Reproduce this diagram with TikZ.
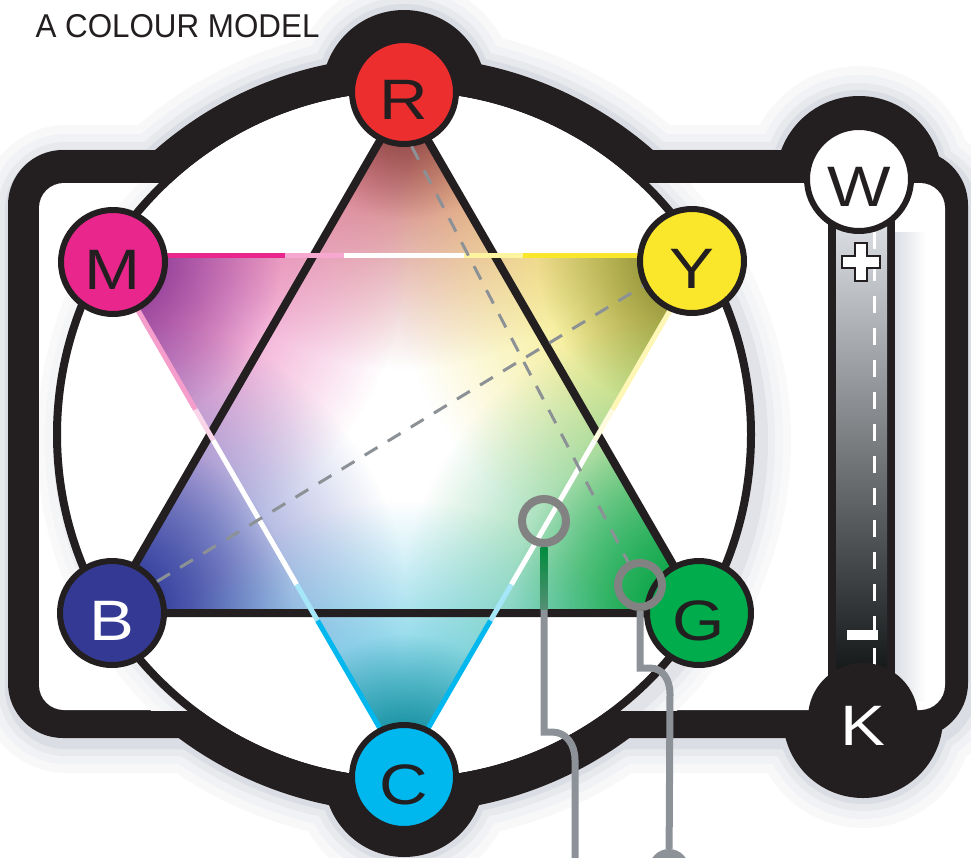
\documentclass[tikz,border=0pt]{standalone}
\usepackage{fontspec}
\setmainfont{Liberation Sans}
\newfontfamily\hubfont[FakeStretch=1.18]{Liberation Sans}
\newfontfamily\titlefont[FakeStretch=0.95]{Liberation Sans}
\usetikzlibrary{calc, fadings}

\tikzfading[name=tipfade, inner color=transparent!0, outer color=transparent!100]

\tikzset{
    hub/.style={circle, draw=ink, line width=6pt, minimum size=104pt, inner sep=0pt,
        text height=55pt, text depth=0pt, text=ink, font=\hubfont\fontsize{57}{57}\selectfont},
    probe/.style={circle, draw=probegray, line width=8pt, minimum size=44pt, inner sep=0pt},
    lead/.style={draw=leadgray, line width=7pt},
    guide/.style={draw=guidegray, line width=3pt, dash pattern=on 15pt off 12pt},
    rim/.style={line width=5pt}
}

\begin{document}
\begin{tikzpicture}[x=1pt, y=-1pt]
\definecolor{ink}{RGB}{35,31,32}
\definecolor{glow}{RGB}{130,140,162}
\definecolor{colR}{RGB}{236,46,47}
\definecolor{colM}{RGB}{232,38,140}
\definecolor{colY}{RGB}{250,230,42}
\definecolor{colB}{RGB}{52,58,148}
\definecolor{colG}{RGB}{0,172,76}
\definecolor{colC}{RGB}{0,183,238}
\definecolor{tipR}{RGB}{195,85,85}
\definecolor{tipRd}{RGB}{125,62,60}
\definecolor{tipM}{RGB}{228,80,165}
\definecolor{tipMd}{RGB}{115,50,145}
\definecolor{tipY}{RGB}{238,222,60}
\definecolor{tipYd}{RGB}{105,112,42}
\definecolor{tipB}{RGB}{70,85,185}
\definecolor{tipBd}{RGB}{40,50,145}
\definecolor{tipG}{RGB}{30,175,85}
\definecolor{tipGd}{RGB}{0,160,62}
\definecolor{tipC}{RGB}{60,190,222}
\definecolor{tipCd}{RGB}{0,125,135}
\definecolor{barlight}{RGB}{218,221,226}
\definecolor{bardark}{RGB}{22,26,27}
\definecolor{probegray}{RGB}{130,130,130}
\definecolor{guidegray}{RGB}{140,145,150}
\definecolor{leadgray}{RGB}{140,146,152}
\definecolor{leadgreen}{RGB}{0,140,62}
\def\tipglow#1#2#3{\fill[#2, path fading=tipfade] (#1) circle [radius=#3];}

\useasboundingbox (0,0) rectangle (971,857);
\clip (0,0) rectangle (971,857);

\coordinate (ctr) at (404,434.5);
\coordinate (cR) at (404,92);
\coordinate (cM) at (113,262);
\coordinate (cY) at (692,261);
\coordinate (cB) at (112,613);
\coordinate (cG) at (699,613);
\coordinate (cC) at (404,777);
\coordinate (cW) at (859,179);
\coordinate (cK) at (863,718);

\foreach \g/\t in {30/6,21/11,13/19,6/30}{
    \pgfmathsetmacro\rc{55+\g}
    \begin{scope}[shift={(3,5)}, glow!\t!white]
        \fill[rounded corners=\rc pt] (8-\g,150-\g) rectangle (968+\g,738+\g);
        \fill (ctr) circle [radius=378+\g];
        \fill (cR) circle [radius=82+\g];
        \fill (cC) circle [radius=80+\g];
        \fill (cW) circle [radius=83+\g];
        \fill (cK) circle [radius=80+\g];
    \end{scope}
}

\fill[ink, rounded corners=55pt] (8,150) rectangle (968,738);
\draw[ink, line width=36pt] (ctr) circle [radius=360];
\foreach \c/\r in {cR/82,cC/80,cW/83,cK/80}
    \fill[ink] (\c) circle [radius=\r];

\fill[white, rounded corners=25pt] (39,183) rectangle (945,710);
\begin{scope}
    \clip (39,183) rectangle (945,710);
    \foreach \g/\t in {30/5,22/9,14/15,7/24}{
        \pgfmathsetmacro\lw{2*\g}
        \draw[glow!\t!white, line width=\lw pt] ([shift={(10,6)}]ctr) circle [radius=347];
    }
\end{scope}
\fill[white] (ctr) circle [radius=343];
\draw[ink, line width=8pt] (ctr) circle [radius=347];

\shade[left color=glow!28!white, right color=white] (895,232) rectangle (926,700);
\fill[ink] (828,179) rectangle (895,718);
\shade[top color=barlight, bottom color=bardark] (836,225) rectangle (887,668);
\draw[white, line width=3pt, dash pattern=on 17pt off 15pt] (874,232) -- (874,668);
\draw[ink, fill=white, line width=2pt] (855,243) -- ++(12,0) -- ++(0,13) -- ++(13,0) -- ++(0,12)
    -- ++(-13,0) -- ++(0,13) -- ++(-12,0) -- ++(0,-13) -- ++(-13,0) -- ++(0,-12) -- ++(13,0) -- cycle;
\fill[white] (847,630) rectangle (878,640);

\coordinate (tR) at (404,99);
\coordinate (tB) at (107,613);
\coordinate (tG) at (701,613);
\coordinate (tM) at (106,255);
\coordinate (tY) at (702,255);
\coordinate (tC) at (404,770);
\coordinate (xRM) at (intersection of tR--tB and tM--tY);
\coordinate (xRY) at (intersection of tR--tG and tM--tY);
\coordinate (xYG) at (intersection of tR--tG and tY--tC);
\coordinate (xGC) at (intersection of tB--tG and tY--tC);
\coordinate (xBC) at (intersection of tB--tG and tM--tC);
\coordinate (xMB) at (intersection of tR--tB and tM--tC);

\begin{scope}
    \clip (tR) -- (xRY) -- (tY) -- (xYG) -- (tG) -- (xGC) -- (tC) -- (xBC) -- (tB) -- (xMB) -- (tM) -- (xRM) -- cycle;
    \fill[white] (0,0) rectangle (971,857);
    \tipglow{tR}{tipR}{270}
    \tipglow{tR}{tipRd}{120}
    \tipglow{tM}{tipM}{300}
    \tipglow{tM}{tipMd}{175}
    \tipglow{tY}{tipY}{310}
    \tipglow{tY}{tipYd}{165}
    \tipglow{tB}{tipB}{300}
    \tipglow{tB}{tipBd}{185}
    \tipglow{tG}{tipG}{300}
    \tipglow{tG}{tipGd}{190}
    \tipglow{tC}{tipC}{270}
    \tipglow{tC}{tipCd}{135}
\end{scope}

\draw[ink, line width=8pt] (tR) -- (tB) -- (tG) -- cycle;
\foreach \a/\b/\c in {0/.30/colM, .30/.40/colM!40!white, .40/.60/white, .60/.70/colY!45!white, .70/1/colY}
    \draw[rim, \c] ($(tM)!\a!(tY)$) -- ($(tM)!\b!(tY)$);
\foreach \a/\b/\c in {0/.30/colM!45!white, .30/.36/colM!20!white, .36/.64/white, .64/.71/colC!35!white, .71/1/colC}
    \draw[rim, \c] ($(tM)!\a!(tC)$) -- ($(tM)!\b!(tC)$);
\foreach \a/\b/\c in {0/.30/colY!35!white, .30/.36/colY!15!white, .36/.64/white, .64/.71/colC!35!white, .71/1/colC}
    \draw[rim, \c] ($(tY)!\a!(tC)$) -- ($(tY)!\b!(tC)$);

\node[hub, fill=colR] (R) at (cR) {R};
\node[hub, fill=colM] (M) at (cM) {M};
\node[hub, fill=colY] (Y) at (cY) {Y};
\node[hub, fill=colB, text=white] (B) at (cB) {B};
\node[hub, fill=colG] (G) at (cG) {G};
\node[hub, fill=colC] (C) at (cC) {C};
\node[hub, fill=white] (W) at (cW) {W};
\node[hub, fill=ink, text=white] (K) at (cK) {K};

\node[probe] (p1) at (544,521) {};
\node[probe] (p2) at (640,585) {};
\draw[guide] (R.-82) -- (p2);
\draw[guide] (B.35) -- (Y.207);

\node[circle, fill=leadgray, minimum size=40pt, inner sep=0pt] (tail) at (669,869) {};
\draw[lead] (p1.south) -- (544,732) -- (552,732) .. controls (566,732) and (575,744) .. (575,760) -- (575,870);
\shade[top color=leadgreen, bottom color=leadgray!60!leadgreen] (540.5,547) rectangle (547.5,609);
\draw[lead] (p2.south) -- (640,668) -- (650,668) .. controls (663,668) and (670,680) .. (670,694) -- (tail);

\node[anchor=base west, text=ink, font=\titlefont\fontsize{33}{33}\selectfont] (title) at (32,37) {A COLOUR MODEL};
\end{tikzpicture}
\end{document}
